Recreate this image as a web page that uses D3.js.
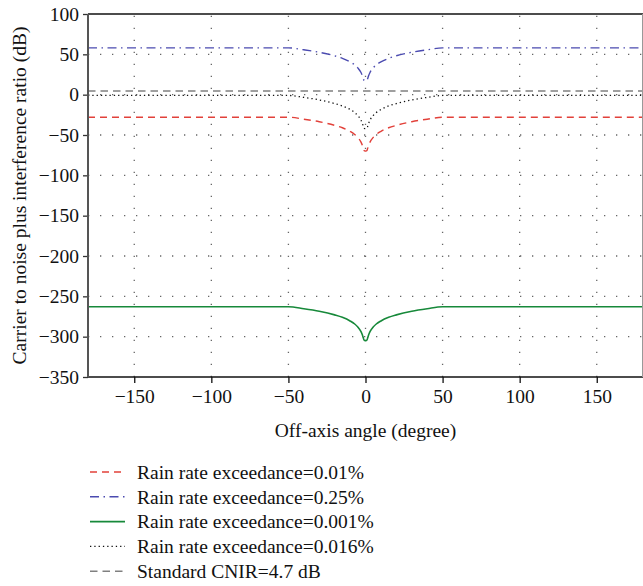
<!DOCTYPE html>
<html>
<head>
<meta charset="utf-8">
<script src="https://cdn.jsdelivr.net/npm/d3@7"></script>
<style>
  body { margin: 0; background: #fff; }
</style>
</head>
<body>
<div id="chart"></div>
<script>
// data
const angles = [-180, -50, -40, -30, -20, -15, -10, -7, -5, -3, -2, -1.5, -1, -0.5, 0, 0.5, 1, 1.5, 2, 3, 5, 7, 10, 15, 20, 30, 40, 50, 180];
const rain001 = [-28, -28, -30.4, -33.5, -38, -41, -45.5, -49.3, -53, -58.5, -63, -66, -69, -69.8, -70, -69.8, -69, -66, -63, -58.5, -53, -49.3, -45.5, -41, -38, -33.5, -30.4, -28, -28];
const rain025 = [58, 58, 55.6, 52.6, 48.2, 45, 40.6, 37, 33.2, 27.8, 23.4, 20.4, 17.8, 17.2, 17, 17.2, 17.8, 20.4, 23.4, 27.8, 33.2, 37, 40.6, 45, 48.2, 52.6, 55.6, 58, 58];
const rain0001 = [-263, -263, -265.4, -268.5, -273, -276, -280.5, -284.3, -288, -293.5, -298, -301, -304, -304.8, -305, -304.8, -304, -301, -298, -293.5, -288, -284.3, -280.5, -276, -273, -268.5, -265.4, -263, -263];
const rain0016 = [-1, -1, -3.4, -6.5, -11, -14, -18.4, -22.2, -25.8, -31.3, -35.8, -38.8, -41.6, -42, -42, -42, -41.6, -38.8, -35.8, -31.3, -25.8, -22.2, -18.4, -14, -11, -6.5, -3.4, -1, -1];
const cnirAngles = [-180, 180];
const cnir = [4.7, 4.7];

const legendLabels = [
  'Rain rate exceedance=0.01%',
  'Rain rate exceedance=0.25%',
  'Rain rate exceedance=0.001%',
  'Rain rate exceedance=0.016%',
  'Standard CNIR=4.7 dB'
];
const xTicks = [-150, -100, -50, 0, 50, 100, 150];
const yTicks = [100, 50, 0, -50, -100, -150, -200, -250, -300, -350];

// const
const width = 643;
const height = 586;
const margin = { top: 14, right: 0, bottom: 209, left: 88 };
const fontFam = '"Liberation Serif", "Times New Roman", serif';
const fs = 19.5;

const svg = d3.select('#chart')
  .append('svg')
  .attr('width', width)
  .attr('height', height)
  .style('font-family', fontFam);

const x = d3.scaleLinear()
  .domain([-180, 180])
  .range([margin.left, width - margin.right]);
const y = d3.scaleLinear()
  .domain([-350, 100])
  .range([height - margin.bottom, margin.top]);

// grid
const grid = svg.append('g')
  .attr('stroke', '#666')
  .attr('stroke-width', 1.3)
  .attr('stroke-dasharray', '1.3,10.7');
grid.selectAll('.gx')
  .data(xTicks)
  .join('line')
  .attr('x1', d => x(d)).attr('x2', d => x(d))
  .attr('y1', y(-350)).attr('y2', y(100));
grid.selectAll('.gy')
  .data(yTicks.filter(d => d > -350 && d < 100))
  .join('line')
  .attr('x1', x(-180)).attr('x2', x(180))
  .attr('y1', d => y(d)).attr('y2', d => y(d));

// series
const series = [
  { vals: rain001, xs: angles, color: '#e2413a', dash: '7,5', w: 1.4 },
  { vals: rain025, xs: angles, color: '#4b4bb0', dash: '9,4.5,1.5,4.5', w: 1.4 },
  { vals: rain0001, xs: angles, color: '#17893a', dash: null, w: 1.6 },
  { vals: rain0016, xs: angles, color: '#111', dash: '1.3,3', w: 1.3 },
  { vals: cnir, xs: cnirAngles, color: '#808080', dash: '7.5,5', w: 1.5 }
];

svg.append('clipPath').attr('id', 'clip')
  .append('rect')
  .attr('x', x(-180)).attr('y', y(100))
  .attr('width', x(180) - x(-180)).attr('height', y(-350) - y(100));

const line = d3.line().curve(d3.curveMonotoneX);
svg.append('g').attr('clip-path', 'url(#clip)')
  .selectAll('path')
  .data(series)
  .join('path')
  .attr('fill', 'none')
  .attr('stroke', d => d.color)
  .attr('stroke-width', d => d.w)
  .attr('stroke-dasharray', d => d.dash)
  .attr('d', d => line(d.vals.map((v, i) => [x(d.xs[i]), y(v)])));

// x axis
svg.append('g')
  .attr('transform', `translate(0, ${y(-350)})`)
  .call(d3.axisBottom(x).tickValues(xTicks).tickSize(6).tickPadding(6))
  .call(g => g.select('.domain').remove())
  .call(g => g.selectAll('line').attr('stroke', '#111').attr('stroke-width', 1.3))
  .call(g => g.selectAll('text').attr('font-size', fs).attr('font-family', fontFam).attr('fill', '#111'));

// y axis
svg.append('g')
  .attr('transform', `translate(${x(-180)}, 0)`)
  .call(d3.axisLeft(y).tickValues(yTicks).tickSize(5).tickPadding(4))
  .call(g => g.select('.domain').remove())
  .call(g => g.selectAll('line').attr('stroke', '#333').attr('stroke-width', 1.3))
  .call(g => g.selectAll('text').attr('font-size', fs).attr('font-family', fontFam).attr('fill', '#111'));

// frame
svg.append('line')
  .attr('x1', x(-180)).attr('x2', x(180)).attr('y1', y(-350)).attr('y2', y(-350))
  .attr('stroke', '#111').attr('stroke-width', 1.6);
svg.append('line')
  .attr('x1', x(-180)).attr('x2', x(180)).attr('y1', y(100)).attr('y2', y(100))
  .attr('stroke', '#111').attr('stroke-width', 1.6);
svg.append('line')
  .attr('x1', x(-180)).attr('x2', x(-180)).attr('y1', y(100)).attr('y2', y(-350))
  .attr('stroke', '#555').attr('stroke-width', 2);
svg.append('line')
  .attr('x1', x(180) - 0.5).attr('x2', x(180) - 0.5).attr('y1', y(100)).attr('y2', y(-350))
  .attr('stroke', '#999').attr('stroke-width', 1);

// axis titles
svg.append('text')
  .attr('x', x(0))
  .attr('y', 437)
  .attr('text-anchor', 'middle')
  .attr('font-size', fs)
  .attr('fill', '#111')
  .text('Off-axis angle (degree)');
svg.append('text')
  .attr('transform', `translate(26, ${(y(100) + y(-350)) / 2}) rotate(-90)`)
  .attr('text-anchor', 'middle')
  .attr('font-size', fs)
  .attr('fill', '#111')
  .text('Carrier to noise plus interference ratio (dB)');

// legend
const legend = svg.append('g')
  .selectAll('g')
  .data(series)
  .join('g')
  .attr('transform', (d, i) => `translate(0, ${472 + i * 24.8})`);
legend.append('line')
  .attr('x1', 90).attr('x2', 125)
  .attr('stroke', d => d.color)
  .attr('stroke-width', d => d.w)
  .attr('stroke-dasharray', d => d.dash);
legend.append('text')
  .attr('x', 137)
  .attr('dy', '0.35em')
  .attr('font-size', fs)
  .attr('fill', '#111')
  .text((d, i) => legendLabels[i]);
</script>
</body>
</html>
